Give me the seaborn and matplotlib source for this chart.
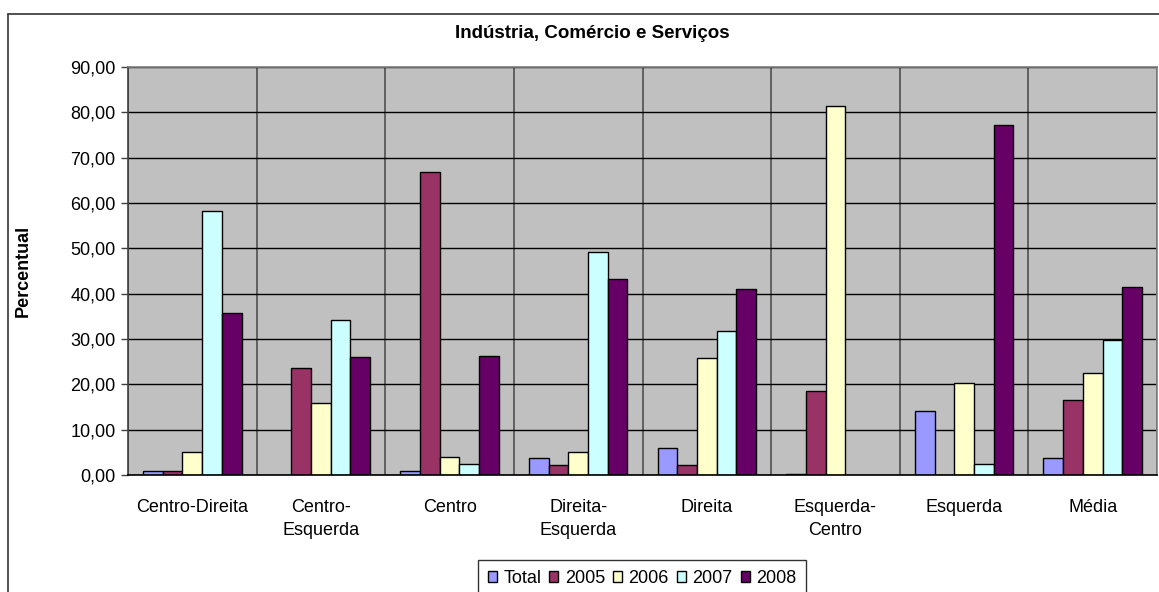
import numpy as np
import pandas as pd
import matplotlib
matplotlib.use("Agg")
import matplotlib.pyplot as plt
from matplotlib.lines import Line2D
from matplotlib.ticker import FuncFormatter, FixedLocator
import seaborn as sns

categories = ["Centro-Direita", "Centro-\nEsquerda", "Centro", "Direita-\nEsquerda",
              "Direita", "Esquerda-\nCentro", "Esquerda", "Média"]
series = ["Total", "2005", "2006", "2007", "2008"]
total = [0.9, None, 0.9, 3.8, 6.0, 0.3, 14.2, 3.8]
s2005 = [0.9, 23.7, 66.8, 2.2, 2.2, 18.6, None, 16.5]
s2006 = [5.0, 15.8, 4.0, 5.0, 25.7, 81.4, 20.3, 22.4]
s2007 = [58.2, 34.3, 2.4, 49.3, 31.7, None, 2.4, 29.8]
s2008 = [35.8, 26.0, 26.2, 43.2, 41.0, None, 77.1, 41.5]
yticks = [0, 10, 20, 30, 40, 50, 60, 70, 80, 90]
colors = ["#9999FF", "#993366", "#FFFFCC", "#CCFFFF", "#660066"]

rows = []
for name, vals in zip(series, [total, s2005, s2006, s2007, s2008]):
    for c, v in zip(categories, vals):
        rows.append({"Categoria": c, "Série": name,
                     "Valor": np.nan if v is None else v})
df = pd.DataFrame(rows)

sns.set_style("white")
plt.rcParams["font.family"] = ["Liberation Sans", "DejaVu Sans"]
plt.rcParams["text.color"] = "black"
plt.rcParams["axes.labelcolor"] = "black"
plt.rcParams["xtick.color"] = "black"
plt.rcParams["ytick.color"] = "black"

W, H = 1159, 592
fig = plt.figure(figsize=(W / 100, H / 100), dpi=100)
ax = fig.add_axes([128 / W, 1 - 475 / H, (1157 - 128) / W, (475 - 67) / H])
ax.set_facecolor("#C0C0C0")

sns.barplot(data=df, x="Categoria", y="Valor", hue="Série", order=categories,
            hue_order=series, palette=colors, saturation=1, width=0.765, gap=0,
            edgecolor="black", linewidth=1.0, ax=ax, legend=True, errorbar=None)

ax.set_xlim(-0.5, len(categories) - 0.5)
ax.set_ylim(0, 90)
ax.yaxis.set_major_locator(FixedLocator(yticks))
ax.yaxis.set_major_formatter(FuncFormatter(lambda v, p: f"{v:.2f}".replace(".", ",")))
ax.set_xticks(range(len(categories)))
ax.set_xticklabels(categories, fontsize=13, linespacing=1.5, color="black")
ax.set_xticks(np.arange(-0.5, len(categories), 1.0), minor=True)
ax.tick_params(axis="x", which="major", length=0, pad=17, labelcolor="black")
ax.tick_params(axis="x", which="minor", length=5, width=1, color="#404040", direction="out")
ax.tick_params(axis="y", which="major", length=5, width=1, color="#404040",
               direction="out", labelsize=13, pad=4, left=True, labelcolor="black")
ax.yaxis.grid(True, color="black", linewidth=1.0)
ax.xaxis.grid(True, which="minor", color="#606060", linewidth=1.4)
ax.xaxis.grid(False, which="major")
ax.set_axisbelow(True)
ax.set_xlabel("")
ax.set_ylabel("Percentual", fontsize=13, fontweight="bold", color="black")
ax.yaxis.set_label_coords(-0.094, 0.5)

for side in ["top", "right"]:
    ax.spines[side].set_color("#808080")
    ax.spines[side].set_linewidth(1.2)
ax.spines["left"].set_color("#404040")
ax.spines["left"].set_linewidth(1.2)
ax.spines["bottom"].set_color("black")
ax.spines["bottom"].set_linewidth(1.2)

fig.text(592 / W, 1 - 33 / H, "Indústria, Comércio e Serviços", ha="center",
         va="center", fontsize=13.5, fontweight="bold", color="black")

# legend
handles, labels = ax.get_legend_handles_labels()
ax.get_legend().remove()
leg = fig.legend(handles, labels, loc="upper center", ncol=5,
                 bbox_to_anchor=(642 / W, 1 - 560 / H), fontsize=13,
                 frameon=True, fancybox=False, edgecolor="black",
                 handlelength=0.5, handleheight=0.5, handletextpad=0.35,
                 columnspacing=0.45, borderpad=0.55, borderaxespad=0)
leg.get_frame().set_linewidth(1.0)
for t in leg.get_texts():
    t.set_color("black")

# outer chart frame (left and top edges visible)
fig.add_artist(Line2D([8 / W, 8 / W], [0, 1 - 14 / H], transform=fig.transFigure,
                      color="#333333", linewidth=1.2))
fig.add_artist(Line2D([8 / W, 1], [1 - 14 / H, 1 - 14 / H], transform=fig.transFigure,
                      color="#333333", linewidth=1.2))

fig.savefig("out.png", dpi=100, facecolor="white")
